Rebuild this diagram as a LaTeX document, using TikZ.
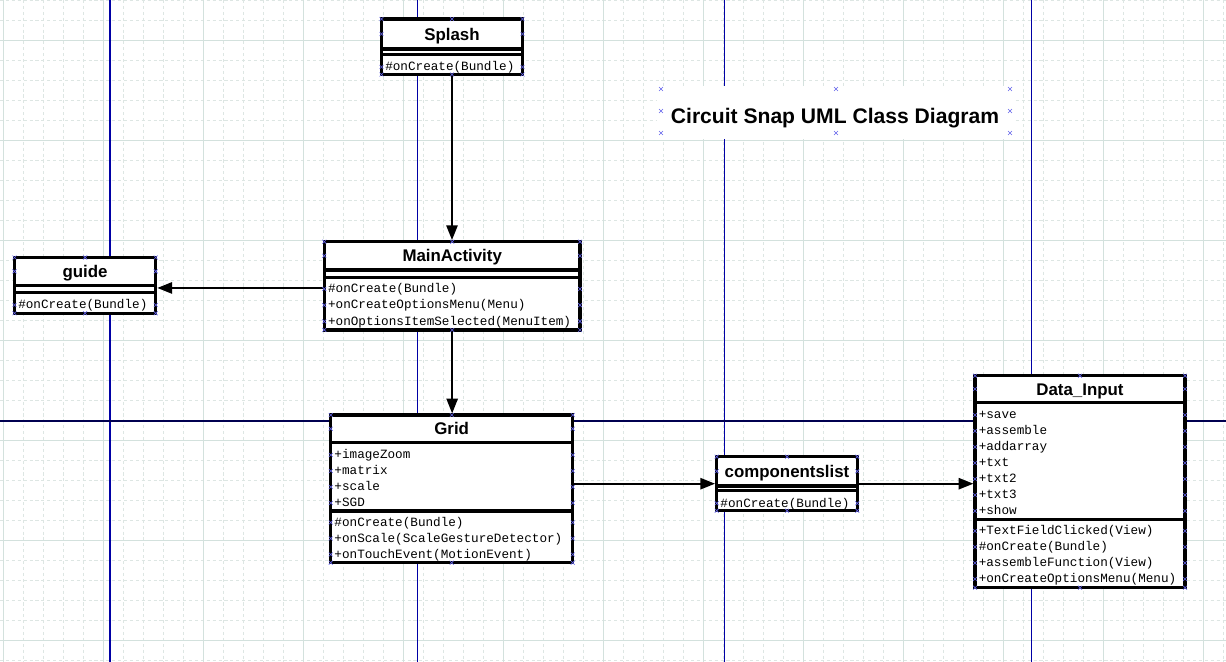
\documentclass[tikz,border=0pt]{standalone}
\usepackage{fontspec}
\usetikzlibrary{arrows.meta, positioning, fit, calc}
\newfontfamily\fonteTitulo{Liberation Sans}
\newfontfamily\fonteMembro{Liberation Mono}
\definecolor{gradeFina}{RGB}{221, 230, 227}
\definecolor{gradeGrossa}{RGB}{211, 225, 221}
\definecolor{azulPagina}{RGB}{0, 0, 165}
\definecolor{azulEscuro}{RGB}{0, 0, 80}
\definecolor{azulAlca}{RGB}{100, 100, 235}
\tikzset{
  classe/.style={
    draw=black, line width=2.3pt, fill=white, inner sep=0pt
  },
  divisor/.style={line width=2.3pt},
  nomeClasse/.style={
    font=\fonteTitulo\bfseries\fontsize{12}{14}\selectfont,
    inner sep=0pt, text height=8.6pt, text depth=0pt
  },
  membro/.style={
    anchor=west, font=\fonteMembro\fontsize{9}{11}\selectfont,
    inner sep=0pt, text height=5.4pt, text depth=0pt
  },
  seta/.style={-{Triangle[length=10.5pt, width=8pt]}, line width=1.4pt},
  linhaFina/.style={gradeFina, line width=0.7pt, dash pattern=on 2.2pt off 2pt},
  linhaGrossa/.style={gradeGrossa, line width=0.7pt},
  alca/.pic={
    \draw[azulAlca, line width=0.45pt]
      (-1.4pt,-1.4pt) -- (1.4pt,1.4pt) (-1.4pt,1.4pt) -- (1.4pt,-1.4pt);
  },
}

\begin{document}
\begin{tikzpicture}[
    x=0.025cm,
    y=-0.025cm,
    titulo/.style={
        font=\fonteTitulo\bfseries\fontsize{15}{18}\selectfont,
        inner sep=0pt,
        text height=10.8pt,
        text depth=0pt
    }
]

\useasboundingbox (0,0) rectangle (1226,662);
\fill[white] (0,0) rectangle (1226,662);

% =================================================
% GRADE DE FUNDO
% =================================================

\foreach \x in {3,23,...,1223}
    \draw[linhaFina] (\x,0) -- (\x,662);
\foreach \y in {0,20,...,660}
    \draw[linhaFina] (0,\y) -- (1226,\y);
\foreach \x in {3,103,...,1203}
    \draw[linhaGrossa] (\x,0) -- (\x,662);
\foreach \y in {40,140,...,640}
    \draw[linhaGrossa] (0,\y) -- (1226,\y);

% Quebras de pagina
\foreach \x in {110,417.7,724.3,1031.7}
    \draw[azulPagina, line width=0.8pt] (\x,0) -- (\x,662);
\draw[azulEscuro, line width=0.9pt] (0,421) -- (1226,421);


% =================================================
% TITULO
% =================================================

\node[
    fill=white,
    inner sep=0pt,
    fit={(657,86) (1015,139)}
] (fundoTitulo) {};

\node[titulo] (titulo) at (835,116)
{Circuit Snap UML Class Diagram};

\foreach \hx/\hy in {661/89, 836/89, 1010/89, 661/111,
                     1010/111, 661/133, 836/133, 1010/133}
    \pic at (\hx,\hy) {alca};


% =================================================
% SPLASH
% =================================================

\node[classe, fit={(381.5,19) (522.5,74.5)}] (splash) {};
\draw[divisor] (381.5,49) -- (522.5,49);
\draw[divisor] (381.5,54.5) -- (522.5,54.5);

\node[nomeClasse] (splashNome) at (452,34) {Splash};

\node[membro] (splashM1) at (385,67) {\#onCreate(Bundle)};


% =================================================
% GUIDE
% =================================================

\node[classe, fit={(14.5,257.5) (155.7,313.3)}] (guide) {};
\draw[divisor] (14.5,285.3) -- (155.7,285.3);
\draw[divisor] (14.5,292.3) -- (155.7,292.3);

\node[nomeClasse] (guideNome) at (85.1,271.4) {guide};

\node[membro] (guideM1) at (18,305) {\#onCreate(Bundle)};


% =================================================
% MAINACTIVITY
% =================================================

\node[classe, fit={(324.3,241.7) (580,330)}] (main) {};
\draw[divisor] (324.3,270) -- (580,270);
\draw[divisor] (324.3,277.3) -- (580,277.3);

\node[nomeClasse] (mainNome) at (452.2,255.8) {MainActivity};

\node[membro] (mainM1) at (327.8,289) {\#onCreate(Bundle)};
\node[membro] (mainM2) at (327.8,305.2) {+onCreateOptionsMenu(Menu)};
\node[membro] (mainM3) at (327.8,321.4) {+onOptionsItemSelected(MenuItem)};


% =================================================
% GRID
% =================================================

\node[classe, fit={(330.7,415) (572.7,562.7)}] (grid) {};
\draw[divisor] (330.7,442.7) -- (572.7,442.7);
\draw[divisor] (330.7,511) -- (572.7,511);

\node[nomeClasse] (gridNome) at (451.7,428.8) {Grid};

\node[membro] (gridA1) at (334.2,455) {+imageZoom};
\node[membro] (gridA2) at (334.2,471) {+matrix};
\node[membro] (gridA3) at (334.2,487) {+scale};
\node[membro] (gridA4) at (334.2,503) {+SGD};

\node[membro] (gridM1) at (334.2,522.5) {\#onCreate(Bundle)};
\node[membro] (gridM2) at (334.2,538.5) {+onScale(ScaleGestureDetector)};
\node[membro] (gridM3) at (334.2,554.5) {+onTouchEvent(MotionEvent)};


% =================================================
% COMPONENTSLIST
% =================================================

\node[classe, fit={(716.7,456.7) (857.3,510.7)}] (complist) {};
\draw[divisor] (716.7,486) -- (857.3,486);
\draw[divisor] (716.7,490.7) -- (857.3,490.7);

\node[nomeClasse] (complistNome) at (787,471.3) {componentslist};

\node[membro] (complistM1) at (720.2,503.3) {\#onCreate(Bundle)};


% =================================================
% DATA_INPUT
% =================================================

\node[classe, fit={(975,375.7) (1185,587.7)}] (datainput) {};
\draw[divisor] (975,402.3) -- (1185,402.3);
\draw[divisor] (975,519.3) -- (1185,519.3);

\node[nomeClasse] (datainputNome) at (1080,389) {Data\_Input};

\node[membro] (datainputA1) at (978.5,415) {+save};
\node[membro] (datainputA2) at (978.5,431) {+assemble};
\node[membro] (datainputA3) at (978.5,447) {+addarray};
\node[membro] (datainputA4) at (978.5,463) {+txt};
\node[membro] (datainputA5) at (978.5,479) {+txt2};
\node[membro] (datainputA6) at (978.5,495) {+txt3};
\node[membro] (datainputA7) at (978.5,511) {+show};

\node[membro] (datainputM1) at (978.5,531) {+TextFieldClicked(View)};
\node[membro] (datainputM2) at (978.5,547) {\#onCreate(Bundle)};
\node[membro] (datainputM3) at (978.5,563) {+assembleFunction(View)};
\node[membro] (datainputM4) at (978.5,579) {+onCreateOptionsMenu(Menu)};


% =================================================
% ASSOCIACOES
% =================================================

\coordinate (mainSaida) at ([yshift=-1.5pt]main.west);

\draw[seta] (splash.south) -- (splash.south |- main.north);
\draw[seta] (mainSaida) -- (mainSaida -| guide.east);
\draw[seta] (main.south) -- (main.south |- grid.north);
\draw[seta] (grid.east |- complist.west) -- (complist.west);
\draw[seta] (complist.east) -- (complist.east -| datainput.west);


% =================================================
% ALCAS DE SELECAO
% =================================================

% Splash
\foreach \hx in {381.5,452,522.5} {
    \pic at (\hx,19) {alca};
    \pic at (\hx,74.5) {alca};
}
\foreach \hy in {34,67} {
    \pic at (381.5,\hy) {alca};
    \pic at (522.5,\hy) {alca};
}

% guide
\foreach \hx in {14.5,85.1,155.7} {
    \pic at (\hx,257.5) {alca};
    \pic at (\hx,313.3) {alca};
}
\foreach \hy in {271.4,305} {
    \pic at (14.5,\hy) {alca};
    \pic at (155.7,\hy) {alca};
}

% MainActivity
\foreach \hx in {324.3,452.2,580} {
    \pic at (\hx,241.7) {alca};
    \pic at (\hx,330) {alca};
}
\foreach \hy in {255.8,289,305.2,321.4} {
    \pic at (324.3,\hy) {alca};
    \pic at (580,\hy) {alca};
}

% Grid
\foreach \hx in {330.7,451.7,572.7} {
    \pic at (\hx,415) {alca};
    \pic at (\hx,562.7) {alca};
}
\foreach \hy in {428.8,455,471,487,503,522.5,538.5,554.5} {
    \pic at (330.7,\hy) {alca};
    \pic at (572.7,\hy) {alca};
}

% componentslist
\foreach \hx in {716.7,787,857.3} {
    \pic at (\hx,456.7) {alca};
    \pic at (\hx,510.7) {alca};
}
\foreach \hy in {471.3,503.3} {
    \pic at (716.7,\hy) {alca};
    \pic at (857.3,\hy) {alca};
}

% Data_Input
\foreach \hx in {975,1080,1185} {
    \pic at (\hx,375.7) {alca};
    \pic at (\hx,587.7) {alca};
}
\foreach \hy in {389,415,431,447,463,479,495,511,531,547,563,579} {
    \pic at (975,\hy) {alca};
    \pic at (1185,\hy) {alca};
}

\end{tikzpicture}
\end{document}
